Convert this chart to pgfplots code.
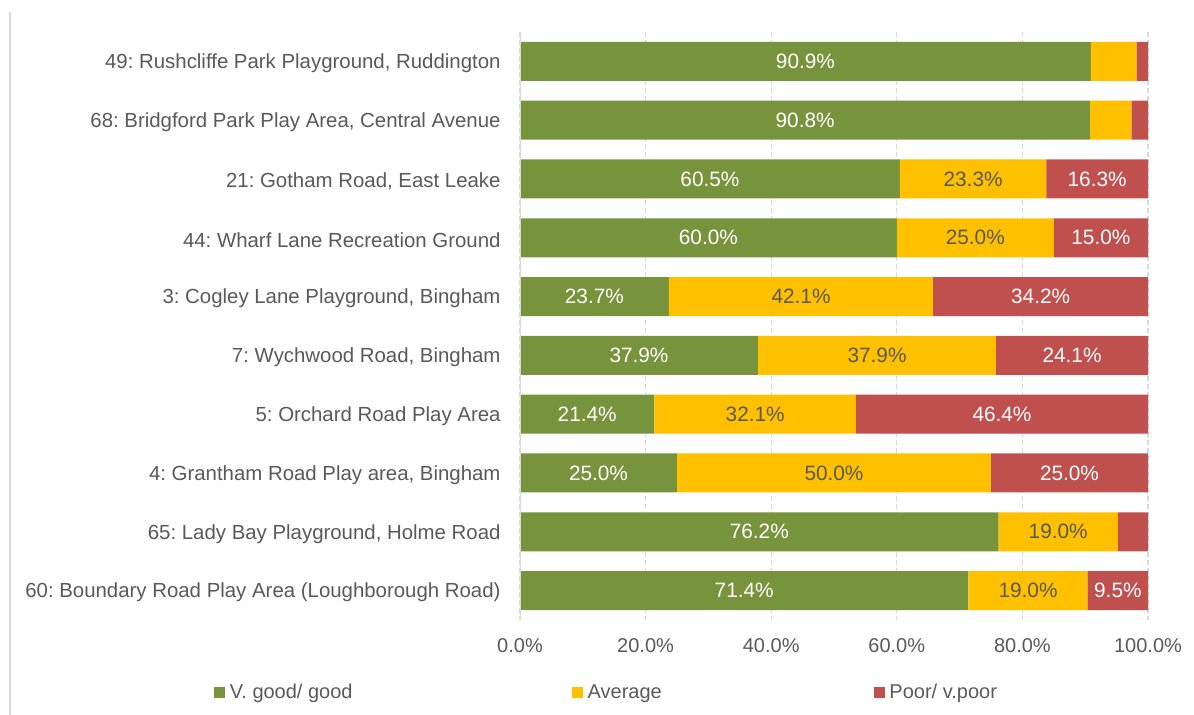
\documentclass[border=0pt]{standalone}
\usepackage{fontspec}
\setmainfont{Liberation Sans}
\usepackage{pgfplots}
\usepackage{pgfplotstable}
\pgfplotsset{compat=1.18}
\frenchspacing
\definecolor{cgood}{HTML}{77933C}
\definecolor{cavg}{HTML}{FFC000}
\definecolor{cpoor}{HTML}{C0504D}
\definecolor{ctext}{HTML}{595959}
\definecolor{cgrid}{HTML}{D9D9D9}

\pgfplotstableread{
y good avg poor
0 90.9 7.3 1.8
1 90.8 6.6 2.6
2 60.5 23.3 16.2
3 60.0 25.0 15.0
4 23.7 42.1 34.2
5 37.9 37.9 24.2
6 21.4 32.1 46.5
7 25.0 50.0 25.0
8 76.2 19.0 4.8
9 71.4 19.0 9.6
}\datatable

% label positions (segment centres) and label texts
\pgfplotstableread{
y xc lab
0 45.45 90.9
1 45.40 90.8
2 30.25 60.5
3 30.00 60.0
4 11.85 23.7
5 18.95 37.9
6 10.70 21.4
7 12.50 25.0
8 38.10 76.2
9 35.70 71.4
}\goodlab
\pgfplotstableread{
y xc lab
2 72.15 23.3
3 72.50 25.0
4 44.75 42.1
5 56.85 37.9
6 37.45 32.1
7 50.00 50.0
8 85.70 19.0
9 80.90 19.0
}\avglab
\pgfplotstableread{
y xc lab
2 91.90 16.3
3 92.50 15.0
4 82.90 34.2
5 87.90 24.1
6 76.75 46.4
7 87.50 25.0
9 95.20 9.5
}\poorlab

\begin{document}
\begin{tikzpicture}
\useasboundingbox (0,0) rectangle (597pt,357.5pt);
\draw[cgrid, line width=0.8pt] (5pt,0) -- (5pt,351.5pt);
\begin{axis}[
  at={(260pt,47.5pt)}, anchor=south west,
  scale only axis, width=314pt, height=294pt,
  xmin=0, xmax=100, ymin=-0.5, ymax=9.5, y dir=reverse,
  xtick={0,20,...,100},
  xticklabel={\pgfmathprintnumber[fixed,fixed zerofill,precision=1]{\tick}\%},
  ytick={0,...,9},
  yticklabels={
    49: Rushcliffe Park Playground{,} Ruddington,
    68: Bridgford Park Play Area{,} Central Avenue,
    21: Gotham Road{,} East Leake,
    44: Wharf Lane Recreation Ground,
    3: Cogley Lane Playground{,} Bingham,
    7: Wychwood Road{,} Bingham,
    5: Orchard Road Play Area,
    4: Grantham Road Play area{,} Bingham,
    65: Lady Bay Playground{,} Holme Road,
    60: Boundary Road Play Area (Loughborough Road)},
  major tick length=0pt,
  axis line style={draw=none},
  xmajorgrids, grid style={cgrid, dash pattern=on 2.5pt off 1.5pt, line width=0.6pt},
  tick label style={color=ctext, font=\normalsize},
  /pgf/number format/assume math mode=true,
  yticklabel style={xshift=-6.2pt, yshift=-1pt, font=\fontsize{10.2}{12}\selectfont},
  xticklabel style={yshift=-5.5pt},
  legend style={at={(-0.497,-0.124)}, anchor=west, draw=none, fill=none,
    font=\normalsize, text=ctext, legend columns=3,
    nodes={inner xsep=2.3pt},
    /tikz/every even column/.append style={column sep=20pt}},
  legend cell align=left,
  sqbar/.style={xbar stacked, bar width=19.5pt, fill=#1, draw=none,
    legend image code/.code={\fill[#1] (0pt,-2.75pt) rectangle (5.5pt,2.75pt);}},
  seglab/.style={only marks, mark=none, forget plot,
    point meta=explicit symbolic,
    nodes near coords={\pgfplotspointmeta\%},
    every node near coord/.append style={anchor=center, font=\fontsize{10.4}{12}\selectfont, text=#1}},
]
\addplot[sqbar=cgood] table[x=good, y=y]{\datatable};
\addplot[sqbar=cavg] table[x=avg, y=y]{\datatable};
\addplot[sqbar=cpoor] table[x=poor, y=y]{\datatable};
\draw[cgrid, line width=0.8pt] (rel axis cs:0,0) -- (rel axis cs:0,1);
\legend{\makebox[148.8pt][l]{V. good/ good}, \makebox[120.8pt][l]{Average}, Poor/ v.poor}
\addplot[seglab=white] table[x=xc, y=y, meta=lab]{\goodlab};
\addplot[seglab=ctext] table[x=xc, y=y, meta=lab]{\avglab};
\addplot[seglab=white] table[x=xc, y=y, meta=lab]{\poorlab};
\end{axis}
\end{tikzpicture}
\end{document}
